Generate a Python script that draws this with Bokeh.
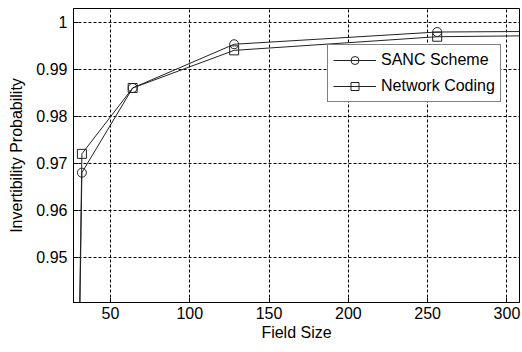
from bokeh.plotting import figure
from bokeh.models import Range1d, FixedTicker, CustomJSTickFormatter, Legend, LegendItem
from bokeh.embed import file_html
from bokeh.resources import INLINE

# data
field_size = [2, 32, 64, 128, 256, 512]
sanc = [0.289, 0.968, 0.986, 0.9953, 0.9979, 0.9984]
netcod = [0.289, 0.972, 0.986, 0.9940, 0.9969, 0.9978]
x_ticks = [50, 100, 150, 200, 250, 300]
y_ticks = [0.95, 0.96, 0.97, 0.98, 0.99, 1.0]

FONT = "Liberation Sans"

p = figure(width=522, height=352, output_backend="svg", toolbar_location=None,
           x_range=Range1d(26.7, 307.9), y_range=Range1d(0.9404, 1.0029),
           min_border_left=73, min_border_right=3, min_border_top=8, min_border_bottom=50)
p.outline_line_color = "black"
p.outline_line_width = 1
p.background_fill_color = "white"
p.border_fill_color = "white"

for ax in (p.xaxis[0], p.yaxis[0]):
    ax.major_label_text_font = FONT
    ax.major_label_text_font_size = "16px"
    ax.major_label_text_color = "black"
    ax.axis_label_text_font = FONT
    ax.axis_label_text_font_size = "16px"
    ax.axis_label_text_font_style = "normal"
    ax.axis_label_text_color = "black"
    ax.axis_line_color = "black"
    ax.major_tick_line_color = "black"
    ax.major_tick_out = 0
    ax.major_tick_in = 5
    ax.minor_tick_line_color = None

p.xaxis.ticker = FixedTicker(ticks=x_ticks)
p.yaxis.ticker = FixedTicker(ticks=y_ticks)
p.yaxis.formatter = CustomJSTickFormatter(
    code="return tick.toFixed(2).replace(/0+$/, '').replace(/\\.$/, '');")
p.xaxis.axis_label = "Field Size"
p.yaxis.axis_label = "Invertibility Probability"
p.xaxis.major_label_standoff = 4
p.yaxis.major_label_standoff = 6
p.xaxis.axis_label_standoff = 2
p.yaxis.axis_label_standoff = 8

p.grid.grid_line_color = "black"
p.grid.grid_line_dash = "3 2"
p.grid.grid_line_width = 1

l1 = p.line(field_size, sanc, line_color="#222222", line_width=1)
m1 = p.scatter(field_size, sanc, marker="circle", size=9, fill_color=None,
               line_color="#222222", line_width=1)
l2 = p.line(field_size, netcod, line_color="#222222", line_width=1)
m2 = p.scatter(field_size, netcod, marker="square", size=9, fill_color=None,
               line_color="#222222", line_width=1)

legend = Legend(items=[LegendItem(label="SANC Scheme", renderers=[l1, m1]),
                       LegendItem(label="Network Coding", renderers=[l2, m2])],
                location=(254, 200))
legend.label_text_font = FONT
legend.label_text_font_size = "16px"
legend.label_text_color = "black"
legend.border_line_color = "black"
legend.border_line_width = 1
legend.background_fill_color = "white"
legend.background_fill_alpha = 1
legend.padding = 5
legend.spacing = 6
legend.glyph_width = 43
legend.glyph_height = 20
legend.label_height = 20
legend.label_standoff = 5
legend.margin = 0
p.add_layout(legend, "center")

open("out.html", "w").write(file_html(p, INLINE))
